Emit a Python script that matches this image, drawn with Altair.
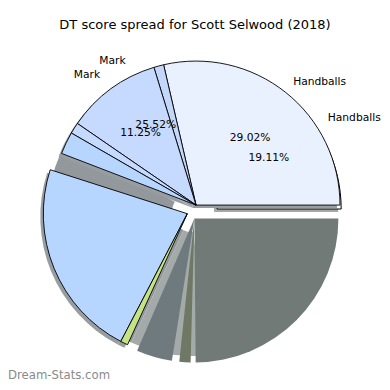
import math
import altair as alt
import pandas as pd

# ---- data ----
# top pie: wedges counter-clockwise from 3 o'clock (share of the full circle, %)
wedge_share = [28.61, 1.11, 10.69, 1.25, 2.50, 0.90, 22.30, 0.83, 0.30, 4.01, 0.83, 1.25, 0.56, 24.86]
wedge_color = ["#eaf1fe", "#c4d7fb", "#c6d9ff", "#c6d9ff", "#b6d6ff", "#93989c", "#b6d6ff",
               "#c5e384", "#a4aaa9", "#6e7a7e", "#a4aaa9", "#6e7864", "#a4aaa9", "#717a77"]
wedge_kind = ["edge", "edge", "edge", "edge", "edge", "gap", "edge",
              "edge", "gap", "plain", "gap", "plain", "gap", "plain"]
wedge_explode = [8, 8, 8, 8, 8, 5, 5, 5, 7, 7, 7, 7, 7, 7]
wedge_explode_dir = [60, 60, 60, 60, 60, 160, 200, 200, 290, 290, 290, 290, 290, 290]

# pie underneath, showing through the gaps
under_share = [28.89, 12.78, 26.39, 8.33, 23.61]
under_color = ["#ffffff", "#c5d9fd", "#93989c", "#a4aaa9", "#ffffff"]
under_edge = [1, 0, 0, 0, 0]
under_explode = [6, 0, 0, 0, 0]
under_explode_dir = [30, 0, 0, 0, 0]

label_text = ["Handballs", "Handballs", "Mark", "Mark"]
label_angle = [52.2, 34.65, 113.7, 123.8]
pct_text = ["29.02%", "19.11%", "25.52%", "11.25%"]
pct_angle = [51.8, 35.2, 112.7, 123.2]

title_text = "DT score spread for Scott Selwood (2018)"
watermark = "Dream-Stats.com"

CX, CY, R = 184, 204, 144
FONT = "DejaVu Sans"

theta_scale = alt.Scale(domain=[0, 100], range=[math.pi / 2 + 2 * math.pi, math.pi / 2])


def pie_base(df):
    return alt.Chart(df).transform_window(
        cum="sum(share)", sort=[alt.SortField("idx")], frame=[None, 0]
    ).transform_calculate(
        start="datum.cum - datum.share",
        dirr="datum.edir * PI / 180",
    ).transform_calculate(
        px=f"{CX} + datum.explode * cos(datum.dirr)",
        py=f"{CY} - datum.explode * sin(datum.dirr)",
    ).transform_calculate(
        sx="datum.px - 3",
        sy="datum.py + 3",
    )


def arc_enc(xf, yf, fill=True):
    enc = dict(
        theta=alt.Theta("start:Q", scale=theta_scale),
        theta2="cum:Q",
        x=alt.X(f"{xf}:Q", scale=None, axis=None),
        y=alt.Y(f"{yf}:Q", scale=None, axis=None),
    )
    if fill:
        enc["fill"] = alt.Fill("color:N", scale=None, legend=None)
    return enc


under = pd.DataFrame({
    "idx": list(range(len(under_share))),
    "share": under_share,
    "color": under_color,
    "edge": under_edge,
    "explode": under_explode,
    "edir": under_explode_dir,
})
ub = pie_base(under)
under_shadow = ub.transform_filter("datum.edge == 1").mark_arc(
    outerRadius=R, innerRadius=20, color="#a3a8ab"
).encode(**arc_enc("sx", "sy", fill=False))
under_fill = ub.transform_filter("datum.edge == 0").mark_arc(
    outerRadius=R, innerRadius=20
).encode(**arc_enc("px", "py"))
under_edged = ub.transform_filter("datum.edge == 1").mark_arc(
    outerRadius=R, innerRadius=20, stroke="#000000", strokeWidth=1
).encode(**arc_enc("px", "py"))

wedges = pd.DataFrame({
    "idx": list(range(len(wedge_share))),
    "share": wedge_share,
    "color": wedge_color,
    "kind": wedge_kind,
    "explode": wedge_explode,
    "edir": wedge_explode_dir,
})
wb = pie_base(wedges)

shadow = wb.transform_filter("datum.kind == 'edge'").mark_arc(
    outerRadius=R, color="#989da2"
).encode(**arc_enc("sx", "sy", fill=False))
plain = wb.transform_filter("datum.kind == 'plain'").mark_arc(outerRadius=R).encode(**arc_enc("px", "py"))
edged = wb.transform_filter("datum.kind == 'edge'").mark_arc(
    outerRadius=R, stroke="#000000", strokeWidth=0.9, strokeJoin="miter"
).encode(**arc_enc("px", "py"))

labels = pd.DataFrame({"text": label_text, "ang": label_angle})
lab_base = alt.Chart(labels).transform_calculate(
    lx=f"{CX} + 165 * cos(datum.ang * PI / 180)",
    ly=f"{CY} - 165 * sin(datum.ang * PI / 180)",
)
lab_right = lab_base.transform_filter("datum.ang < 90").mark_text(
    align="left", baseline="middle", font=FONT, fontSize=10.7, color="#000000"
).encode(x=alt.X("lx:Q", scale=None, axis=None), y=alt.Y("ly:Q", scale=None, axis=None), text="text:N")
lab_left = lab_base.transform_filter("datum.ang >= 90").mark_text(
    align="right", baseline="middle", font=FONT, fontSize=10.7, color="#000000"
).encode(x=alt.X("lx:Q", scale=None, axis=None), y=alt.Y("ly:Q", scale=None, axis=None), text="text:N")

pcts = pd.DataFrame({"text": pct_text, "ang": pct_angle})
pct_layer = alt.Chart(pcts).transform_calculate(
    lx=f"{CX} + 94 * cos(datum.ang * PI / 180)",
    ly=f"{CY} - 94 * sin(datum.ang * PI / 180)",
).mark_text(
    align="center", baseline="middle", font=FONT, fontSize=10.7, color="#000000"
).encode(x=alt.X("lx:Q", scale=None, axis=None), y=alt.Y("ly:Q", scale=None, axis=None), text="text:N")

title = alt.Chart(pd.DataFrame({"t": [title_text]})).mark_text(
    align="center", baseline="middle", font=FONT, fontSize=13, color="#000000"
).encode(x=alt.value(187), y=alt.value(17), text="t:N")

wm = alt.Chart(pd.DataFrame({"t": [watermark]})).mark_text(
    align="left", baseline="middle", font=FONT, fontSize=11.7, color="#8a8a8a"
).encode(x=alt.value(0), y=alt.value(367), text="t:N")

chart = alt.layer(
    under_shadow, under_fill, under_edged, shadow, plain, edged,
    lab_right, lab_left, pct_layer, title, wm
).properties(
    width=374, height=374, padding=0, autosize=alt.AutoSizeParams(type="none")
).configure_view(stroke=None)

chart.save("out.html", embed_options={"renderer": "svg", "actions": False})
